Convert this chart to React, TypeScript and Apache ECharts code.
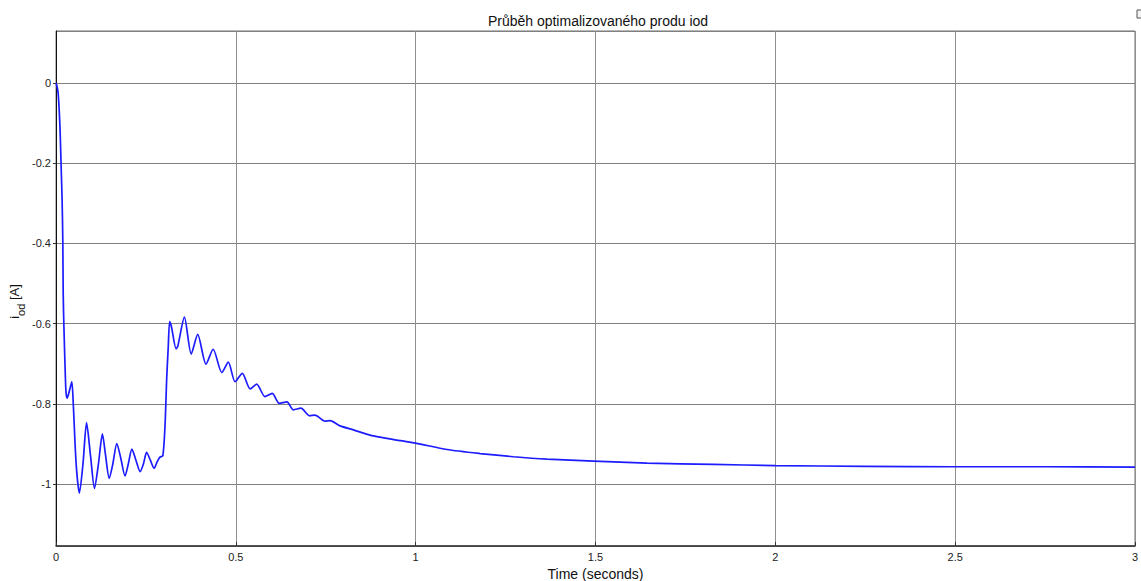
import React, { useEffect, useRef } from "react";
import * as echarts from "echarts";

// Simulated current i_od over time (seconds)
const timeS: number[] = [
  0, 0.002, 0.006, 0.011, 0.014, 0.017, 0.019, 0.020, 0.022, 0.026, 0.028, 0.031,
  0.038, 0.044, 0.048, 0.056, 0.065, 0.075, 0.085, 0.096, 0.107, 0.118, 0.129,
  0.138, 0.148, 0.158, 0.169, 0.180, 0.192, 0.201, 0.211, 0.222, 0.234, 0.243,
  0.252, 0.262, 0.273, 0.281, 0.289, 0.297, 0.303, 0.308, 0.312, 0.316, 0.321,
  0.334, 0.339, 0.357, 0.376, 0.394, 0.417, 0.437, 0.461, 0.479, 0.498, 0.518,
  0.540, 0.558, 0.581, 0.601, 0.621, 0.642, 0.660, 0.681, 0.705, 0.720, 0.748,
  0.762, 0.790, 0.827, 0.873, 0.920, 0.957, 1.0, 1.087, 1.179, 1.272, 1.365,
  1.495, 1.643, 1.828, 2.0, 2.25, 2.5, 2.75, 3.0,
];

const iOd: number[] = [
  0, -0.005, -0.026, -0.109, -0.2, -0.292, -0.4, -0.524, -0.608, -0.732, -0.773, -0.786,
  -0.765, -0.745, -0.8, -0.95, -1.023, -0.95, -0.847, -0.93, -1.011, -0.95, -0.875,
  -0.93, -0.986, -0.95, -0.899, -0.935, -0.98, -0.95, -0.913, -0.94, -0.969, -0.95,
  -0.921, -0.94, -0.961, -0.945, -0.933, -0.93, -0.857, -0.732, -0.66, -0.595, -0.608,
  -0.663, -0.655, -0.584, -0.676, -0.627, -0.701, -0.664, -0.722, -0.696, -0.745, -0.724,
  -0.763, -0.751, -0.782, -0.774, -0.799, -0.795, -0.815, -0.811, -0.83, -0.828, -0.843,
  -0.842, -0.855, -0.865, -0.878, -0.886, -0.892, -0.898, -0.914, -0.924, -0.932, -0.938,
  -0.943, -0.948, -0.951, -0.954, -0.956, -0.957, -0.957, -0.958,
];

const titleText = "Průběh optimalizovaného produ iod";
const xAxisTitle = "Time (seconds)";

const fmt = (v: number) => {
  const r = Math.round(v * 10) / 10;
  return String(r);
};

export default function App() {
  const ref = useRef<HTMLDivElement>(null);

  useEffect(() => {
    document.body.style.margin = "0";
    if (!ref.current) return;
    const chart = echarts.init(ref.current, null, { renderer: "svg" });
    const font = "Liberation Sans, Arial, Helvetica, sans-serif";
    chart.setOption({
      animation: false,
      backgroundColor: "#ffffff",
      textStyle: { fontFamily: font },
      title: {
        text: titleText,
        left: 593,
        textAlign: "center",
        top: 9,
        textStyle: { fontSize: 14, fontWeight: "normal", color: "#111", fontFamily: font },
      },
      grid: {
        left: 56,
        right: 6,
        top: 31,
        bottom: 35,
        outerBoundsMode: "none",
        containLabel: false,
        show: true,
        borderColor: "#707070",
        borderWidth: 1,
        backgroundColor: "transparent",
      },
      xAxis: {
        type: "value",
        min: 0,
        max: 3,
        minInterval: 0.5,
        maxInterval: 0.5,
        name: xAxisTitle,
        nameLocation: "middle",
        nameGap: 21,
        nameMoveOverlap: false,
        nameTextStyle: { fontSize: 14, color: "#111", fontFamily: font },
        axisLine: { show: true, onZero: false, lineStyle: { color: "#333", width: 1.5 } },
        axisTick: { show: true, inside: true, length: 4, lineStyle: { color: "#333" } },
        axisLabel: { fontSize: 11, color: "#222", margin: 5, formatter: fmt, fontFamily: font },
        splitLine: { show: true, lineStyle: { color: "#8f8f8f", width: 1 } },
      },
      yAxis: {
        type: "value",
        min: -1.1546,
        max: 0.1297,
        minInterval: 0.2,
        maxInterval: 0.2,
        name: "{i|i}{s|od}{i| [A]}",
        nameLocation: "middle",
        nameGap: 30,
        nameRotate: 90,
        nameMoveOverlap: false,
        nameTextStyle: {
          color: "#111",
          fontFamily: font,
          padding: [0, 26, 0, 0],
          rich: {
            i: { fontSize: 13, color: "#111", fontFamily: font, verticalAlign: "top", lineHeight: 18 },
            s: { fontSize: 11, color: "#111", fontFamily: font, verticalAlign: "bottom", lineHeight: 18 },
          },
        },
        axisLine: { show: true, onZero: false, lineStyle: { color: "#111", width: 1 } },
        axisTick: { show: true, inside: false, length: 3, lineStyle: { color: "#333" } },
        axisLabel: {
          fontSize: 11,
          color: "#222",
          margin: 5,
          showMinLabel: false,
          showMaxLabel: false,
          formatter: fmt,
          fontFamily: font,
        },
        splitLine: { show: true, lineStyle: { color: "#808080", width: 1 } },
      },
      graphic: [
        {
          type: "rect",
          shape: { x: 1137, y: 10, width: 6, height: 8 },
          style: { fill: "#f4f4f4", stroke: "#555", lineWidth: 1 },
        },
      ],
      series: [
        {
          type: "line",
          data: timeS.map((t, i) => [t, iOd[i]]),
          showSymbol: false,
          smooth: 0.25,
          lineStyle: { color: "#1c1cff", width: 1.7 },
          clip: true,
        },
      ],
    });
    return () => chart.dispose();
  }, []);

  return <div ref={ref} style={{ width: 1141, height: 581 }} />;
}
